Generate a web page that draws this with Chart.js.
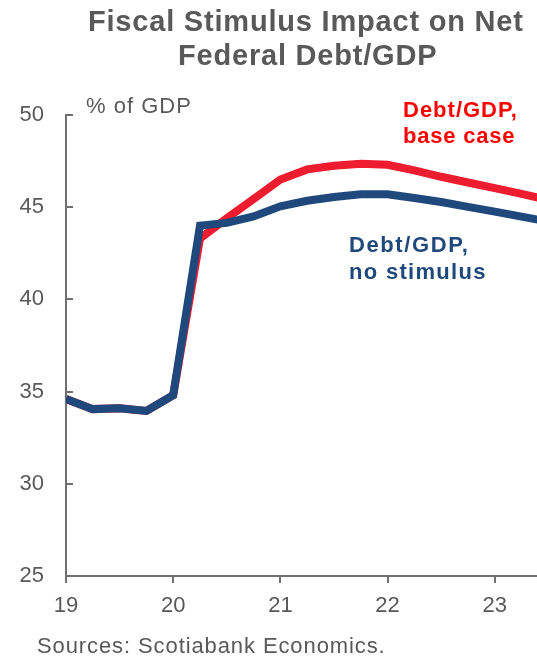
<!DOCTYPE html>
<html>
<head>
<meta charset="utf-8">
<title>Fiscal Stimulus Impact on Net Federal Debt/GDP</title>
<script src="https://cdn.jsdelivr.net/npm/chart.js@4.4.1/dist/chart.umd.min.js"></script>
<style>
  html, body { margin: 0; padding: 0; background: #ffffff; }
  #wrap { position: relative; width: 537px; height: 656px; }
</style>
</head>
<body>
<div id="wrap">
  <canvas id="debtChart" width="537" height="656"></canvas>
</div>
<script>
// quarterly points, year fraction (19 = 2019Q1)
const quarters = [19, 19.25, 19.5, 19.75, 20, 20.25, 20.5, 20.75, 21, 21.25, 21.5, 21.75, 22, 22.25, 22.5, 22.75, 23, 23.25, 23.5];

// net federal debt, % of GDP
const baseCase   = [34.6, 34.05, 34.1, 33.95, 34.8, 43.3, 44.4, 45.45, 46.5, 47.05, 47.25, 47.35, 47.3, 47.0, 46.65, 46.34, 46.03, 45.72, 45.4];
const noStimulus = [34.6, 34.05, 34.1, 33.95, 34.8, 44.0, 44.15, 44.5, 45.05, 45.35, 45.55, 45.7, 45.7, 45.5, 45.28, 45.02, 44.76, 44.49, 44.22];

const xTicks = [19, 20, 21, 22, 23];
const yTicks = [25, 30, 35, 40, 45, 50];

const FONT = '"Liberation Sans", Arial, sans-serif';
const GREY = '#595959';
const AXIS = '#707070';
const RED = '#ED1C2E';
const BLUE = '#1F497D';

const toPoints = (vals) => vals.map((v, i) => ({ x: quarters[i], y: v }));

// inward tick marks on the y axis + all the free text
const extras = {
  id: 'extras',
  afterDraw(chart) {
    const ctx = chart.ctx;
    const y = chart.scales.y;
    const left = chart.chartArea.left;

    ctx.save();
    ctx.strokeStyle = AXIS;
    ctx.lineWidth = 2;
    yTicks.forEach((v) => {
      const py = Math.round(y.getPixelForValue(v));
      ctx.beginPath();
      ctx.moveTo(left, py);
      ctx.lineTo(left + 7, py);
      ctx.stroke();
    });

    const text = (str, x, yy, font, color, spacing) => {
      ctx.font = font;
      ctx.fillStyle = color;
      ctx.letterSpacing = spacing || '0px';
      ctx.textAlign = 'left';
      ctx.textBaseline = 'alphabetic';
      ctx.fillText(str, x, yy);
    };

    text('Fiscal Stimulus Impact on Net', 88, 31, 'bold 29px ' + FONT, GREY, '0.8px');
    text('Federal Debt/GDP', 178, 65, 'bold 29px ' + FONT, GREY, '0.8px');

    text('% of GDP', 86, 113, '22px ' + FONT, GREY, '1px');

    text('Debt/GDP,', 403, 117, 'bold 22px ' + FONT, '#FF0000', '1px');
    text('base case', 403, 143, 'bold 22px ' + FONT, '#FF0000', '0.8px');

    text('Debt/GDP,', 349, 252, 'bold 22px ' + FONT, BLUE, '1.6px');
    text('no stimulus', 349, 279, 'bold 22px ' + FONT, BLUE, '1.3px');

    text('Sources: Scotiabank Economics.', 37, 653, '22px ' + FONT, GREY, '0.9px');
    ctx.restore();
  }
};

const config = {
  type: 'line',
  data: {
    datasets: [
      {
        label: 'Debt/GDP, no stimulus',
        data: toPoints(noStimulus),
        borderColor: BLUE,
        borderWidth: 8,
        pointRadius: 0,
        tension: 0,
        clip: 0,
      },
      {
        label: 'Debt/GDP, base case',
        data: toPoints(baseCase),
        borderColor: RED,
        borderWidth: 8,
        pointRadius: 0,
        tension: 0,
        clip: 0,
      },
    ],
  },
  options: {
    responsive: false,
    animation: false,
    layout: { padding: { top: 115, left: 0, right: 0, bottom: 0 } },
    plugins: {
      legend: { display: false },
      tooltip: { enabled: false },
      title: { display: false },
    },
    scales: {
      x: {
        type: 'linear',
        min: 19,
        max: 23.394,
        afterBuildTicks: (scale) => {
          scale.ticks = xTicks.map((v) => ({ value: v }));
        },
        afterFit: (scale) => { scale.height = 80; },
        grid: {
          drawOnChartArea: false,
          drawTicks: true,
          tickLength: 7,
          color: AXIS,
          lineWidth: 2,
        },
        border: { color: AXIS, width: 2 },
        ticks: {
          color: GREY,
          font: { family: FONT, size: 22 },
          padding: 10,
          maxRotation: 0,
          callback: (v) => String(v),
        },
      },
      y: {
        min: 25,
        max: 50,
        afterBuildTicks: (scale) => {
          scale.ticks = yTicks.map((v) => ({ value: v }));
        },
        afterFit: (scale) => { scale.width = 66; },
        grid: { drawOnChartArea: false, drawTicks: false },
        border: { color: AXIS, width: 2 },
        ticks: {
          color: GREY,
          font: { family: FONT, size: 22 },
          padding: 22,
        },
      },
    },
  },
  plugins: [extras],
};

const chart = new Chart(document.getElementById('debtChart').getContext('2d'), config);
</script>
</body>
</html>
